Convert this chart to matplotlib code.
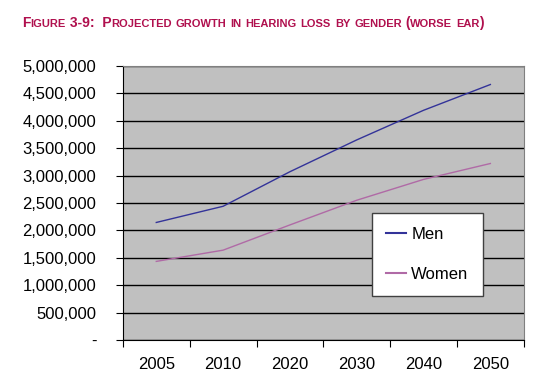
import numpy as np
import matplotlib.pyplot as plt
from matplotlib.ticker import FuncFormatter, FixedLocator

plt.rcParams['font.family'] = ['Liberation Sans', 'DejaVu Sans']

years = ['2005', '2010', '2020', '2030', '2040', '2050']
men = [2145000, 2440000, 3070000, 3650000, 4190000, 4660000]
women = [1435000, 1640000, 2100000, 2550000, 2930000, 3220000]

TITLE_COLOR = '#b0104e'


def small_caps(fig, x, y, text, big=10, small=8.0, color=TITLE_COLOR):
    # fake small caps: upper-case letters big, lower-case letters shrunk
    r = fig.canvas.get_renderer()
    pieces = []
    for ch in text:
        is_small = ch.islower()
        if pieces and pieces[-1][1] == is_small:
            pieces[-1][0] += ch
        else:
            pieces.append([ch, is_small])
    fw = fig.get_figwidth() * fig.dpi
    for s, is_small in pieces:
        t = fig.text(x, y, s.upper(), fontsize=small if is_small else big,
                     fontweight='bold', color=color, va='baseline', ha='left')
        bb = t.get_window_extent(renderer=r)
        x += bb.width / fw


fig = plt.figure(figsize=(5.56, 3.83), dpi=100)
ax = fig.add_axes([0.221, 0.112, 0.721, 0.716])

idx = np.arange(len(years))
ax.plot(idx, men, color='#333399', lw=1.0, label='Men')
ax.plot(idx, women, color='#b06aa6', lw=1.0, label='Women')

ax.set_facecolor('#c0c0c0')
ax.set_xlim(-0.5, 5.5)
ax.set_ylim(0, 5000000)
ax.set_yticks(np.arange(0, 5000001, 500000))
ax.yaxis.set_major_formatter(FuncFormatter(lambda v, p: '-' if v == 0 else f'{int(v):,}'))
ax.grid(axis='y', color='black', lw=1.0)
ax.set_axisbelow(True)

ax.xaxis.set_major_locator(FixedLocator(np.arange(-0.5, 6, 1)))
ax.xaxis.set_minor_locator(FixedLocator(idx))
ax.set_xticklabels([])
ax.set_xticklabels(years, minor=True)
ax.tick_params(axis='x', which='major', length=5, direction='out', color='black')
ax.tick_params(axis='x', which='minor', length=0, pad=12, labelsize=12)
ax.tick_params(axis='y', length=5, labelsize=12, pad=14)

for s in ['top', 'right']:
    ax.spines[s].set_color('#808080')
for s in ['left', 'bottom']:
    ax.spines[s].set_color('black')

leg = ax.legend(loc='upper left', bbox_to_anchor=(372 / 556, 1 - 213 / 383),
                bbox_transform=fig.transFigure, fontsize=12, frameon=True,
                fancybox=False, edgecolor='#404040', framealpha=1,
                labelspacing=1.5, handlelength=1.2, handletextpad=0.3,
                borderpad=0.85, borderaxespad=0)
leg.get_frame().set_linewidth(1.0)
for line in leg.get_lines():
    line.set_linewidth(1.5)

small_caps(fig, 22 / 556, 1 - 27 / 383,
           'Figure 3-9:  Projected growth in hearing loss by gender (worse ear)')

fig.savefig('out.png', dpi=100)
